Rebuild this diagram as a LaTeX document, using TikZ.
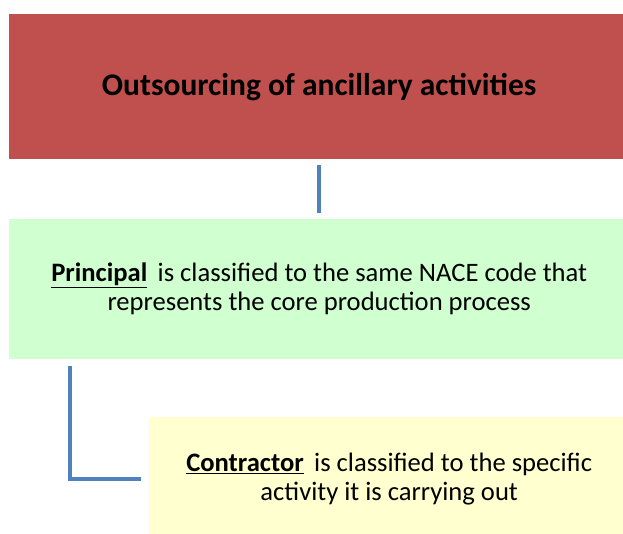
\documentclass[tikz,border=0pt]{standalone}
\usepackage{fontspec}
\setmainfont{Carlito}
\usetikzlibrary{calc}

\definecolor{boxred}{HTML}{C0504D}
\definecolor{boxgreen}{HTML}{D0FFD0}
\definecolor{boxyellow}{HTML}{FFFFD0}
\definecolor{linkblue}{HTML}{4F81BD}

\begin{document}
\begin{tikzpicture}[x=1pt,y=-1pt,
	box/.style={rectangle,inner sep=0pt,align=center,anchor=north west},
	link/.style={draw=linkblue,line width=3.5pt}]
	
	\useasboundingbox (0,0) rectangle (623,533);
	
	\node [box,fill=boxred,minimum width=620pt,minimum height=145pt,
		font=\fontsize{31.5}{36}\selectfont\bfseries] (title) at (9,14)
		{\raisebox{-3pt}{Outsourcing of ancillary activities}};
	
	\node [box,fill=boxgreen,minimum width=620pt,minimum height=140pt,
		font=\fontsize{26.6}{29}\selectfont] (principal) at (9,219)
		{\underline{\textbf{Principal}}\, is classified to the same NACE code that\\
		represents the core production process};
	
	\node [box,fill=boxyellow,minimum width=480pt,minimum height=124pt,
		font=\fontsize{26.6}{29}\selectfont] (contractor) at (149,417)
		{\underline{\textbf{Contractor}}\, is classified to the specific\\
		activity it is carrying out};
	
	\coordinate (elbow) at (70,0);
	
	\draw [link] ([yshift=-6pt]title.south -| principal.north) -- ([yshift=6pt]principal.north);
	\draw [link] ([yshift=-7pt]principal.south -| elbow) |- ([xshift=-8pt]contractor.west);
	
\end{tikzpicture}
\end{document}
